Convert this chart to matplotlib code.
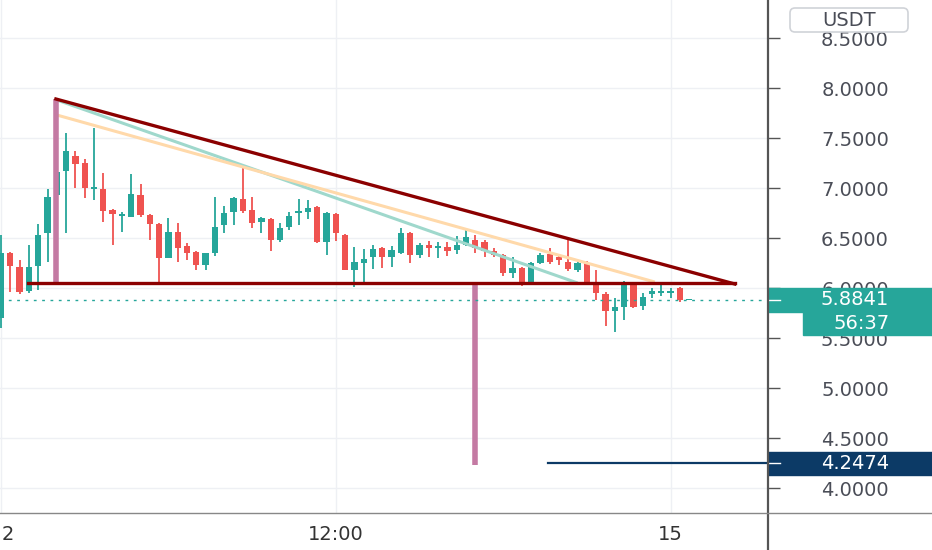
import matplotlib
matplotlib.use("Agg")
import matplotlib.pyplot as plt
import matplotlib.transforms as mtransforms
from matplotlib.patches import Rectangle, FancyBboxPatch
import numpy as np

# --- OHLC data (20 min candles) ---
opens = [5.70, 6.35, 6.21, 5.97, 6.22, 6.55, 6.93, 7.17, 7.32, 7.25,
         6.99, 6.99, 6.78, 6.72, 6.71, 6.93, 6.73, 6.64, 6.30, 6.56,
         6.42, 6.36, 6.23, 6.35, 6.63, 6.76, 6.89, 6.78, 6.66, 6.69,
         6.48, 6.61, 6.75, 6.76, 6.81, 6.46, 6.74, 6.53, 6.18, 6.25,
         6.31, 6.40, 6.31, 6.35, 6.55, 6.33, 6.43, 6.40, 6.41, 6.38,
         6.43, 6.48, 6.46, 6.37, 6.33, 6.15, 6.20, 6.05, 6.25, 6.34,
         6.31, 6.26, 6.18, 6.25, 6.06, 5.94, 5.77, 5.81, 6.04, 5.82,
         5.94, 5.95, 5.95, 6.00, 5.883]
highs = [6.53, 6.36, 6.28, 6.43, 6.64, 6.99, 7.30, 7.55, 7.37, 7.29,
         7.60, 7.15, 6.79, 6.76, 7.14, 7.04, 6.74, 6.65, 6.70, 6.65,
         6.45, 6.37, 6.35, 6.91, 6.82, 6.91, 7.21, 6.91, 6.71, 6.70,
         6.65, 6.76, 6.89, 6.88, 6.82, 6.76, 6.75, 6.54, 6.41, 6.39,
         6.43, 6.41, 6.42, 6.60, 6.56, 6.45, 6.47, 6.46, 6.46, 6.52,
         6.58, 6.53, 6.48, 6.40, 6.34, 6.31, 6.21, 6.26, 6.35, 6.40,
         6.32, 6.48, 6.27, 6.27, 6.18, 5.96, 5.90, 6.07, 6.05, 5.95,
         6.00, 6.03, 6.00, 6.01, 5.886]
lows = [5.60, 5.96, 5.94, 5.95, 5.98, 6.26, 6.90, 6.55, 7.00, 6.90,
        6.88, 6.66, 6.43, 6.56, 6.71, 6.71, 6.48, 6.04, 6.30, 6.26,
        6.28, 6.18, 6.18, 6.32, 6.55, 6.63, 6.75, 6.60, 6.55, 6.37,
        6.46, 6.58, 6.63, 6.69, 6.45, 6.33, 6.47, 6.18, 6.01, 6.05,
        6.19, 6.20, 6.21, 6.34, 6.25, 6.30, 6.31, 6.30, 6.32, 6.34,
        6.42, 6.35, 6.31, 6.31, 6.12, 6.10, 6.02, 6.04, 6.24, 6.24,
        6.23, 6.17, 6.16, 6.04, 5.88, 5.62, 5.56, 5.68, 5.80, 5.78,
        5.90, 5.92, 5.90, 5.86, 5.880]
closes = [6.35, 6.22, 5.96, 6.21, 6.53, 6.91, 7.16, 7.37, 7.24, 7.00,
          7.01, 6.77, 6.74, 6.74, 6.94, 6.73, 6.64, 6.30, 6.56, 6.40,
          6.35, 6.23, 6.35, 6.61, 6.75, 6.90, 6.77, 6.65, 6.70, 6.48,
          6.60, 6.72, 6.77, 6.80, 6.46, 6.75, 6.55, 6.18, 6.26, 6.29,
          6.39, 6.31, 6.38, 6.55, 6.33, 6.43, 6.40, 6.42, 6.37, 6.43,
          6.51, 6.40, 6.37, 6.33, 6.15, 6.20, 6.05, 6.25, 6.33, 6.26,
          6.28, 6.19, 6.25, 6.06, 5.95, 5.77, 5.81, 6.05, 5.81, 5.91,
          5.97, 5.97, 5.97, 5.88, 5.8841]

price_ticks = [4.0, 4.5, 5.0, 5.5, 6.0, 6.5, 7.0, 7.5, 8.0, 8.5]
time_ticks = [0.75, 36, 72]
time_labels = ["2", "12:00", "15"]
day_lines = [0, 36, 72]

# drawings on the chart (x = candle index, y = price)
top_line_x, top_line_y = [5.9, 78.9], [7.89, 6.04]
base_line_x, base_line_y = [2.9, 78.9], [6.05, 6.05]
teal_line_x, teal_line_y = [6.0, 62.0], [7.88, 6.05]
orange_line_x, orange_line_y = [6.0, 70.3], [7.73, 6.06]
bar1_x, bar1_y = 5.9, [6.05, 7.89]
bar2_x, bar2_y = 51.0, [4.23, 6.03]
low_level_x, low_level = 58.8, 4.2474
last_price = 5.8841
countdown = "56:37"
currency = "USDT"

GREEN = "#26a69a"
RED = "#ef5350"
NAVY = "#0c3a66"
TXT = "#4a4d57"

fig = plt.figure(figsize=(9.32, 5.5), dpi=100)
ax = fig.add_axes([0, 37 / 550, 768 / 932, 513 / 550])

o = np.array(opens)
h = np.array(highs)
l = np.array(lows)
c = np.array(closes)
x = np.arange(len(o))
cols = [GREEN if cc >= oo else RED for oo, cc in zip(o, c)]

ax.vlines(x, l, h, colors=cols, linewidth=1.3, zorder=2)
body = np.maximum(np.abs(c - o), 0.012)
ax.bar(x, body, bottom=np.minimum(o, c), width=0.68, color=cols, zorder=3)

# drawings
ax.plot(teal_line_x, teal_line_y, color="#9fd8cc", lw=2.2, zorder=4,
        solid_capstyle="butt")
ax.plot(orange_line_x, orange_line_y, color="#ffd9aa", lw=2.2, zorder=4,
        solid_capstyle="butt")
ax.plot([bar1_x, bar1_x], bar1_y, color="#c47aa3", lw=4, zorder=5,
        solid_capstyle="butt")
ax.plot([bar2_x, bar2_x], bar2_y, color="#c47aa3", lw=4, zorder=5,
        solid_capstyle="butt")
ax.plot(top_line_x, top_line_y, color="#8b0000", lw=2.4, zorder=6)
ax.plot(base_line_x, base_line_y, color="#8b0000", lw=2.4, zorder=6)

ax.set_xlim(-0.11, 82.47)
ax.set_ylim(3.75, 8.88)

trans = mtransforms.blended_transform_factory(ax.transAxes, ax.transData)
ax.plot([low_level_x / 82.58 + 0.0013, 1.0], [low_level, low_level],
        transform=trans, color=NAVY, lw=1.6, zorder=6)
ax.axhline(last_price, color=GREEN, lw=1, ls=(0, (2, 4)), zorder=6)

# grid
ax.grid(axis="y", color="#eef0f4", lw=1, zorder=0)
for d in day_lines:
    ax.axvline(d, color="#eef0f4", lw=1, zorder=0)

for s in ["top", "left", "bottom", "right"]:
    ax.spines[s].set_visible(False)

ax.yaxis.tick_right()
ax.set_yticks(price_ticks)
ax.set_yticklabels([f"{p:.4f}" for p in price_ticks])
ax.tick_params(axis="y", direction="out", length=8.6, width=1, colors="#555",
               labelcolor=TXT, labelsize=14, pad=54)
for lab in ax.get_yticklabels():
    lab.set_horizontalalignment("center")

ax.set_xticks(time_ticks)
ax.set_xticklabels(time_labels)
ax.tick_params(axis="x", length=0, labelsize=14, labelcolor="#333", pad=9)

# price labels on the scale
box_w = 932 / 768 - 1.0
ax.add_patch(Rectangle((1.0, last_price - 0.12), box_w, 0.24, transform=trans,
                       color=GREEN, clip_on=False, zorder=8))
ax.text(855 / 768, last_price, f"{last_price:.4f}", transform=trans,
        color="white", fontsize=14, ha="center", va="center", zorder=9,
        clip_on=False)
ax.plot([1.0, 1.0156], [last_price, last_price], transform=trans,
        color="white", lw=1, clip_on=False, zorder=9)

ax.add_patch(Rectangle((803 / 768, 5.53), 932 / 768 - 803 / 768, 0.23,
                       transform=trans, color=GREEN, clip_on=False, zorder=8))
ax.text(862 / 768, 5.645, countdown, transform=trans, color="white",
        fontsize=14, ha="center", va="center", zorder=9, clip_on=False)

ax.add_patch(Rectangle((1.0, low_level - 0.115), box_w, 0.23, transform=trans,
                       color=NAVY, clip_on=False, zorder=8))
ax.text(855 / 768, low_level, f"{low_level:.4f}", transform=trans,
        color="white", fontsize=14, ha="center", va="center", zorder=9,
        clip_on=False)
ax.plot([1.0, 1.0156], [low_level, low_level], transform=trans,
        color="white", lw=1, clip_on=False, zorder=9)

# scale border lines
fig.add_artist(plt.Line2D([768 / 932, 768 / 932], [0, 1], color="#555",
                          lw=1.6, transform=fig.transFigure))
fig.add_artist(plt.Line2D([0, 1], [37 / 550, 37 / 550], color="#888",
                          lw=1, transform=fig.transFigure))

# currency tag
px = mtransforms.IdentityTransform()
fig.add_artist(FancyBboxPatch((790, 518), 118, 24,
                              boxstyle="round,pad=0,rounding_size=5",
                              transform=px, facecolor="white",
                              edgecolor="#d0d3d8", lw=1.2))
fig.text(849, 530, currency, transform=px, color=TXT, fontsize=14,
         ha="center", va="center")

fig.savefig("out.png", dpi=100)
